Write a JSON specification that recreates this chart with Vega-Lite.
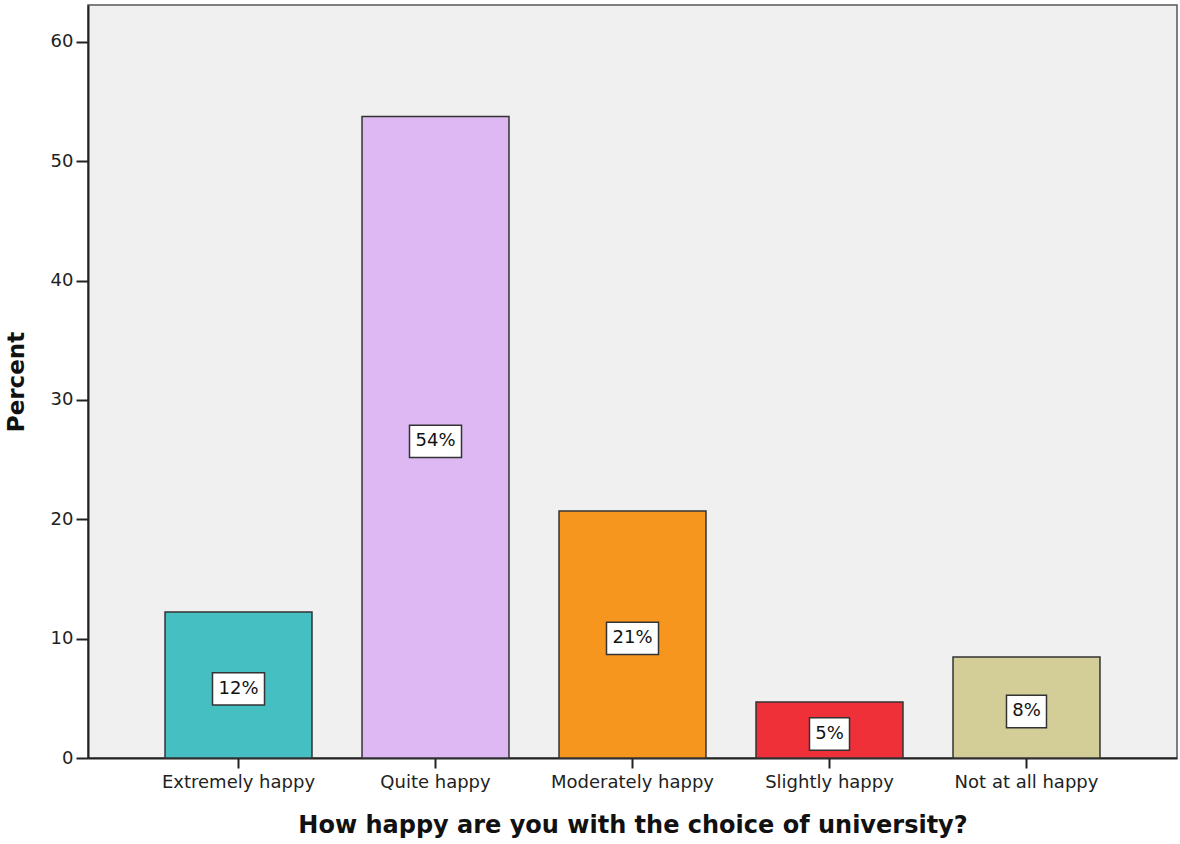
{
  "$schema": "https://vega.github.io/schema/vega-lite/v6.json",
  "width": 1089,
  "height": 753,
  "autosize": "none",
  "padding": {"left": 88, "top": 5, "right": 3, "bottom": 86},
  "background": "white",
  "config": {
    "font": "DejaVu Sans",
    "view": {"fill": "#F0F0F0", "stroke": "#555555", "strokeWidth": 1.5}
  },
  "data": {
    "values": [
      {"category": "Extremely happy", "value": 12.24, "label": "12%"},
      {"category": "Quite happy", "value": 53.75, "label": "54%"},
      {"category": "Moderately happy", "value": 20.7, "label": "21%"},
      {"category": "Slightly happy", "value": 4.7, "label": "5%"},
      {"category": "Not at all happy", "value": 8.47, "label": "8%"}
    ]
  },
  "resolve": {"scale": {"y": "independent"}, "axis": {"y": "independent"}},
  "encoding": {
    "x": {
      "field": "category",
      "type": "nominal",
      "sort": null,
      "scale": {"paddingInner": 0.254, "paddingOuter": 0.391},
      "axis": {
        "title": "How happy are you with the choice of university?",
        "titleFontSize": 24,
        "titleFontWeight": "bold",
        "titleColor": "#111111",
        "titlePadding": 22,
        "labelAngle": 0,
        "labelFontSize": 18,
        "labelColor": "#222222",
        "labelPadding": 5,
        "tickSize": 10,
        "tickColor": "#222222",
        "tickWidth": 2,
        "domainColor": "#222222",
        "domainWidth": 2
      }
    }
  },
  "layer": [
    {
      "mark": {"type": "bar", "stroke": "#333333", "strokeWidth": 1.5},
      "encoding": {
        "y": {
          "field": "value",
          "type": "quantitative",
          "scale": {"domain": [0, 63.1], "nice": false, "zero": true},
          "axis": {
            "title": "Percent",
            "titleFontSize": 23,
            "titleFontWeight": "bold",
            "titleColor": "#111111",
            "titlePadding": 22,
            "values": [0, 10, 20, 30, 40, 50, 60],
            "grid": false,
            "labelFontSize": 18,
            "labelColor": "#222222",
            "labelPadding": 3,
            "tickSize": 12,
            "tickColor": "#222222",
            "tickWidth": 2,
            "domainColor": "#222222",
            "domainWidth": 2
          }
        },
        "color": {
          "field": "category",
          "type": "nominal",
          "sort": null,
          "legend": null,
          "scale": {
            "domain": ["Extremely happy", "Quite happy", "Moderately happy", "Slightly happy", "Not at all happy"],
            "range": ["#46BFC2", "#DDB8F2", "#F7961E", "#EF3038", "#D3CE97"]
          }
        }
      }
    },
    {
      "resolve": {"scale": {"y": "shared"}},
      "encoding": {
        "y": {
          "field": "value",
          "type": "quantitative",
          "scale": {"domain": [0, 126.2], "nice": false, "zero": true},
          "axis": null
        }
      },
      "layer": [
        {
          "transform": [{"filter": "length(datum.label) > 2"}],
          "mark": {"type": "point", "shape": "M-1,-0.62H1V0.62H-1Z", "size": 2704, "filled": true, "fill": "white", "stroke": "#333333", "strokeWidth": 1.5, "opacity": 1, "yOffset": 4}
        },
        {
          "transform": [{"filter": "length(datum.label) <= 2"}],
          "mark": {"type": "point", "shape": "M-1,-0.81H1V0.81H-1Z", "size": 1600, "filled": true, "fill": "white", "stroke": "#333333", "strokeWidth": 1.5, "opacity": 1, "yOffset": 4}
        },
        {
          "mark": {"type": "text", "fontSize": 18, "color": "#111111", "baseline": "middle", "align": "center", "yOffset": 4},
          "encoding": {"text": {"field": "label", "type": "nominal"}}
        }
      ]
    }
  ]
}
